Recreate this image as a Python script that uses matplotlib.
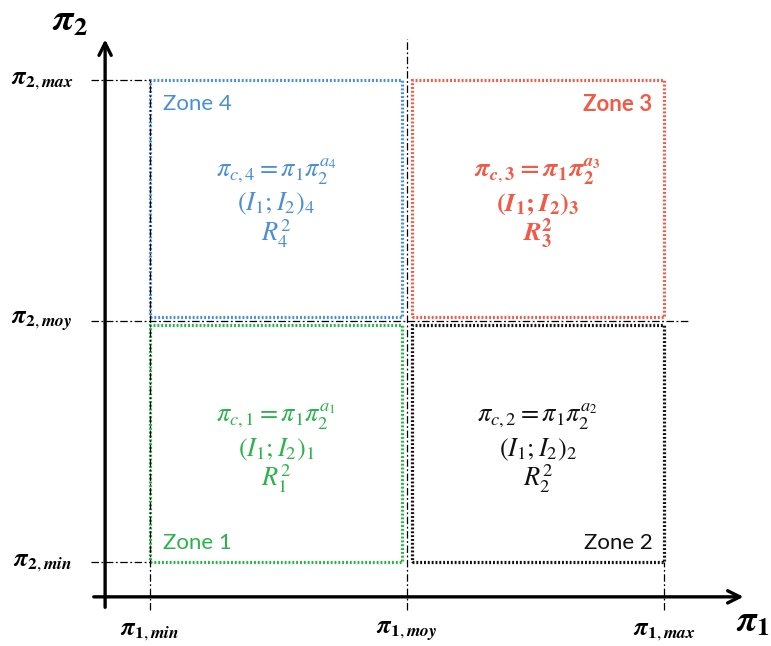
import matplotlib.pyplot as plt
from matplotlib.patches import Rectangle

plt.rcParams['mathtext.fontset'] = 'stix'

# grid levels of the two dimensionless groups (min, moy, max)
pi1_levels = [1.0, 2.0, 3.0]
pi2_levels = [1.0, 2.0, 3.0]
level_names = ['min', 'moy', 'max']

zones = ['Zone 1', 'Zone 2', 'Zone 3', 'Zone 4']
zone_cols = [0, 1, 1, 0]   # index into pi1 intervals
zone_rows = [0, 0, 1, 1]   # index into pi2 intervals
zone_colors = ['#2bb34b', '#111111', '#f05a46', '#4a8fd6']
zone_bold = [False, False, True, False]

gap = 0.018
origin = (0.825, 0.855)


def bold_pi(idx, name):
    return r'$\mathbfit{\pi}_{\mathbf{%d},\mathbfit{%s}}$' % (idx, name)


fig = plt.figure(figsize=(7.71, 6.46), dpi=100)
ax = fig.add_axes([0, 0, 1, 1])
ax.set_xlim(0.416, 3.416)
ax.set_ylim(0.651, 3.332)
ax.axis('off')

# main axes arrows
ax.annotate('', xy=(3.32, origin[1]), xytext=(0.77, origin[1]),
            arrowprops=dict(arrowstyle='->', lw=2.4, color='black', mutation_scale=22))
ax.annotate('', xy=(origin[0], 3.18), xytext=(origin[0], 0.8),
            arrowprops=dict(arrowstyle='->', lw=2.4, color='black', mutation_scale=22))
ax.text(0.69, 3.245, r'$\mathbfit{\pi}_{\mathbf{2}}$', fontsize=27, ha='center', va='center')
ax.text(3.345, 0.755, r'$\mathbfit{\pi}_{\mathbf{1}}$', fontsize=26, ha='center', va='center')

# reference dash-dot lines
dd = dict(color='black', lw=0.9, ls=(0, (6, 2, 1.5, 2)))
ax.plot([0.77, pi1_levels[0]], [pi2_levels[2]] * 2, **dd)
ax.plot([0.77, pi1_levels[0]], [pi2_levels[0]] * 2, **dd)
ax.plot([0.77, 3.1], [pi2_levels[1]] * 2, **dd)
ax.plot([pi1_levels[0]] * 2, [0.8, pi2_levels[2]], **dd)
ax.plot([pi1_levels[1]] * 2, [0.8, 3.17], **dd)
ax.plot([pi1_levels[2]] * 2, [0.8, pi2_levels[0]], **dd)

for x, nm in zip(pi1_levels, level_names):
    ax.text(x, 0.715, bold_pi(1, nm), fontsize=18, ha='center', va='center')
for y, nm in zip(pi2_levels, level_names):
    ax.text(0.58, y, bold_pi(2, nm), fontsize=18, ha='center', va='center')

# zone boxes and annotations
for i, name in enumerate(zones):
    c, r = zone_cols[i], zone_rows[i]
    x0 = pi1_levels[c] + (gap if c == 1 else 0)
    x1 = pi1_levels[c + 1] - (gap if c == 0 else 0)
    y0 = pi2_levels[r] + (gap if r == 1 else 0)
    y1 = pi2_levels[r + 1] - (gap if r == 0 else 0)
    col = zone_colors[i]
    ax.add_patch(Rectangle((x0, y0), x1 - x0, y1 - y0, fill=False,
                           ec=col, lw=2.3, ls=(0, (0.6, 0.6))))
    k = i + 1
    if zone_bold[i]:
        lines = [r'$\mathbfit{\pi}_{\mathbfit{c},\mathbf{%d}} \mathbf{=} \mathbfit{\pi}_{\mathbf{1}}'
                 r'\mathbfit{\pi}_{\mathbf{2}}^{\mathbfit{a}_{\mathbf{%d}}}$' % (k, k),
                 r'$\mathbf{(}\mathbfit{I}_{\mathbf{1}}\mathbf{;}\mathbfit{I}_{\mathbf{2}}'
                 r'\mathbf{)}_{\mathbf{%d}}$' % k,
                 r'$\mathbfit{R}_{\mathbf{%d}}^{\mathbf{2}}$' % k]
    else:
        lines = [r'$\pi_{c,%d} = \pi_1\pi_2^{a_%d}$' % (k, k),
                 r'$(I_1;I_2)_%d$' % k,
                 r'$R_%d^2$' % k]
    xm = (x0 + x1) / 2
    ym = (y0 + y1) / 2
    for ln, dy in zip(lines, [0.11, -0.025, -0.145]):
        ax.text(xm, ym + dy, ln, fontsize=19, color=col, ha='center', va='center')
    fw = 'bold' if zone_bold[i] else 'normal'
    if c == 0:
        zx, ha = x0 + 0.05, 'left'
    else:
        zx, ha = x1 - 0.045, 'right'
    if r == 1:
        zy = y1 - 0.1
    else:
        zy = y0 + 0.08
    ax.text(zx, zy, name, fontsize=16, color=col, ha=ha, va='center',
            family='Lato', fontweight=fw)

fig.savefig('out.png', dpi=100)
